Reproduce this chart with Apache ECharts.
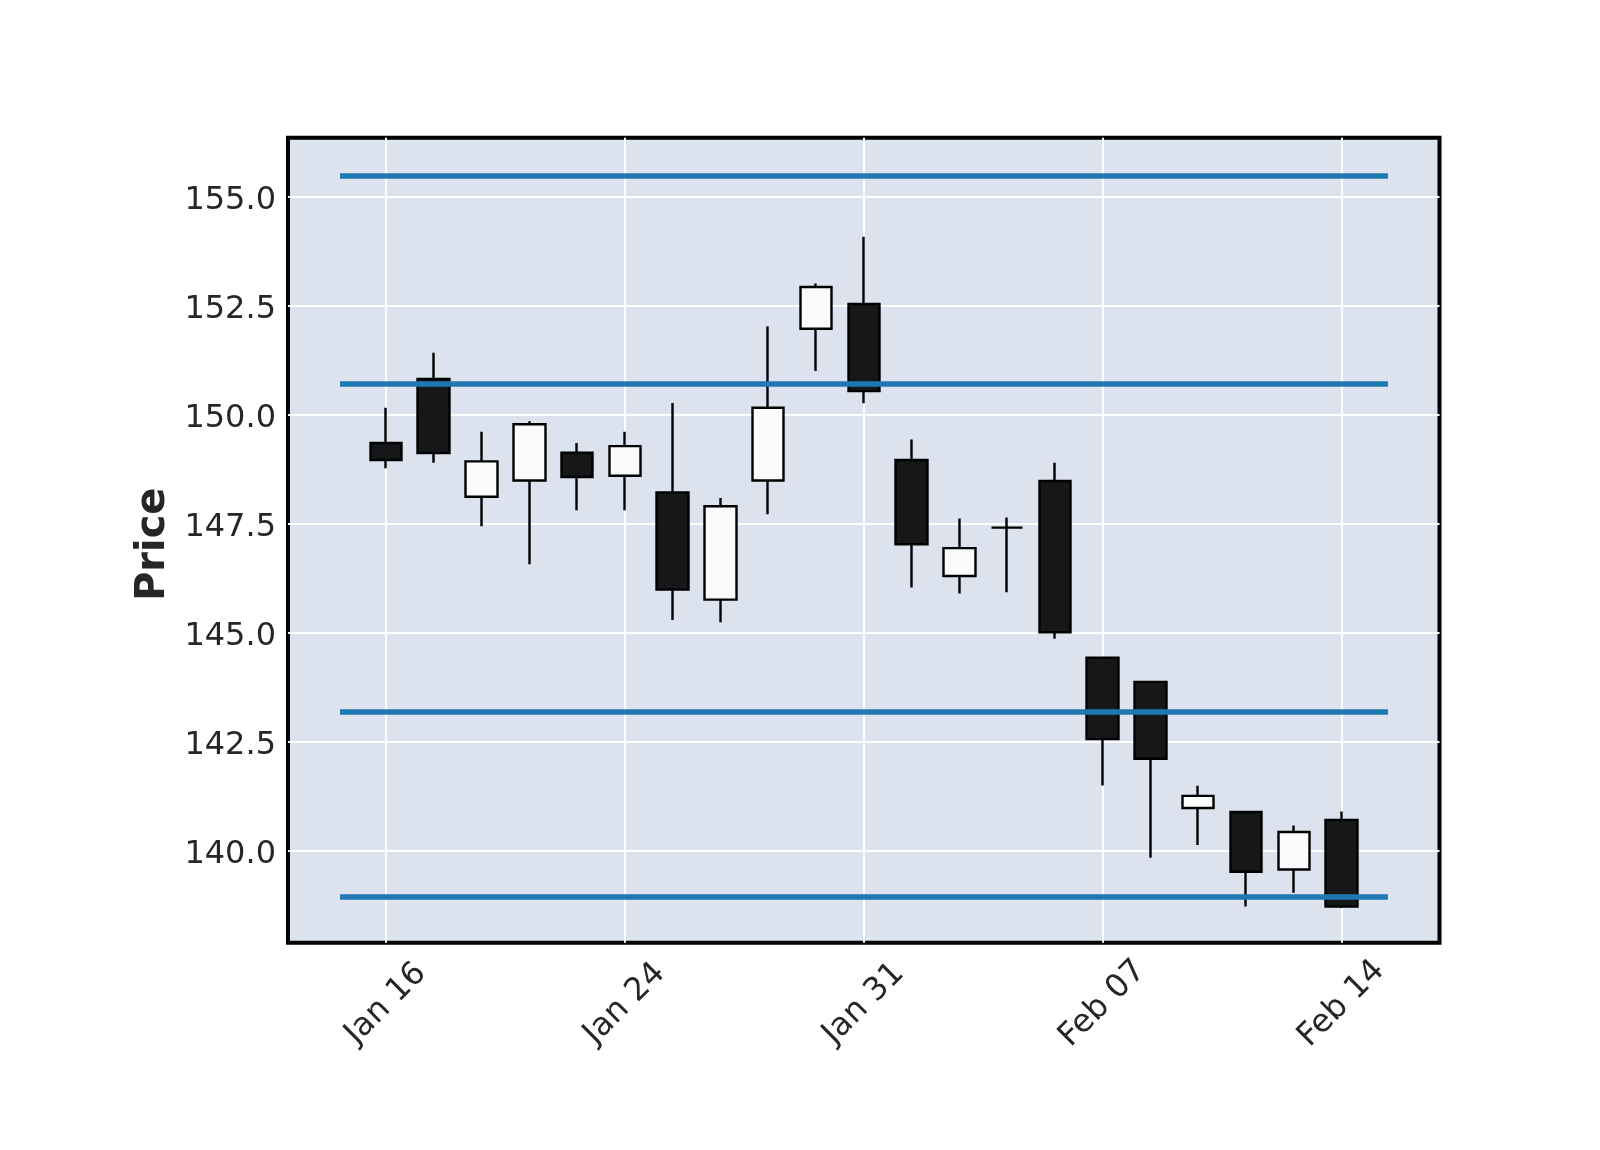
<!DOCTYPE html>
<html>
<head>
<meta charset="utf-8">
<script src="https://cdn.jsdelivr.net/npm/echarts@6/dist/echarts.min.js"></script>
<style>
html,body{margin:0;padding:0;background:#fff;}
#chart{width:1600px;height:1150px;}
</style>
</head>
<body>
<div id="chart"></div>
<script>
// ---- data ----
const dates = ['2023-01-16','2023-01-18','2023-01-19','2023-01-20','2023-01-23','2023-01-24','2023-01-25','2023-01-26','2023-01-27','2023-01-30','2023-01-31','2023-02-01','2023-02-02','2023-02-03','2023-02-06','2023-02-07','2023-02-08','2023-02-09','2023-02-10','2023-02-13','2023-02-14'];
const opens  = [149.36,150.83,148.13,148.50,149.14,148.61,148.23,145.77,148.50,151.98,152.55,148.97,146.31,147.42,148.49,144.44,143.88,140.99,140.90,139.58,140.72];
const closes = [148.97,149.13,148.94,149.79,148.58,149.29,146.00,147.91,150.17,152.94,150.55,147.04,146.95,147.42,145.02,142.57,142.12,141.27,139.53,140.44,138.73];
const lows   = [148.78,148.91,147.45,146.58,147.82,147.82,145.30,145.25,147.73,151.01,150.27,146.05,145.91,145.94,144.87,141.51,139.85,140.14,138.73,139.05,138.70];
const highs  = [150.17,151.43,149.62,149.86,149.36,149.62,150.28,148.10,152.04,153.02,154.09,149.44,147.63,147.65,148.91,144.46,143.90,141.50,140.91,140.59,140.91];
const hlineValues = [155.50, 150.73, 143.19, 138.95];
const xTickIndex = [0, 5, 10, 15, 20];
const yTicks = [140.0, 142.5, 145.0, 147.5, 150.0, 152.5, 155.0];

const monthNames = ['Jan','Feb','Mar','Apr','May','Jun','Jul','Aug','Sep','Oct','Nov','Dec'];
function fmtDate(s){ const p = s.split('-'); return monthNames[parseInt(p[1],10)-1] + ' ' + p[2]; }

const candleData = dates.map((d, i) => [i, opens[i], closes[i], lows[i], highs[i]]);

const chart = echarts.init(document.getElementById('chart'), null, {renderer: 'canvas'});
const FONT = 'DejaVu Sans';
chart.setOption({
  animation: false,
  backgroundColor: '#ffffff',
  grid: {
    left: 288, right: 160.5, top: 137.8, bottom: 207.2,
    show: true, backgroundColor: '#DCE3EF', borderColor: '#000000', borderWidth: 4
  },
  xAxis: {
    type: 'value', min: -2.05, max: 22.05,
    axisLine: {show: false},
    axisTick: {show: false, customValues: xTickIndex},
    splitLine: {show: true, lineStyle: {color: '#ffffff', width: 2}},
    axisLabel: {
      customValues: xTickIndex,
      formatter: v => fmtDate(dates[Math.round(v)]),
      rotate: 45, align: 'center', verticalAlign: 'middle', margin: 61,
      fontSize: 32, fontFamily: FONT, color: '#262626'
    }
  },
  yAxis: {
    type: 'value', min: 137.9, max: 156.36, scale: true,
    name: 'Price', nameLocation: 'middle', nameRotate: 90, nameGap: 110,
    nameTextStyle: {fontSize: 40, fontWeight: 'bold', fontFamily: FONT, color: '#262626', padding: [0, 8, 0, 0]},
    axisLine: {show: false},
    axisTick: {show: false, customValues: yTicks},
    splitLine: {show: true, lineStyle: {color: '#ffffff', width: 2}},
    axisLabel: {
      customValues: yTicks,
      formatter: v => '{t|' + Number(v).toFixed(1) + '}',
      margin: 12, fontSize: 32, fontFamily: FONT, color: '#262626',
      rich: {t: {fontSize: 32, fontFamily: FONT, color: '#262626', padding: [7, 0, 0, 0]}}
    }
  },
  series: [{
    type: 'candlestick',
    data: candleData,
    encode: {x: 0, y: [1, 2, 3, 4]},
    barWidth: 32,
    itemStyle: {
      color: '#FAFBFD', color0: '#161718',
      borderColor: '#000000', borderColor0: '#000000', borderColorDoji: '#000000',
      borderWidth: 2.4
    },
    markLine: {
      silent: true, symbol: ['none', 'none'], animation: false,
      label: {show: false},
      lineStyle: {color: '#1f77b4', width: 5.5, type: 'solid'},
      data: hlineValues.map(v => [{xAxis: -0.96, yAxis: v}, {xAxis: 20.97, yAxis: v}])
    }
  }]
});
</script>
</body>
</html>
